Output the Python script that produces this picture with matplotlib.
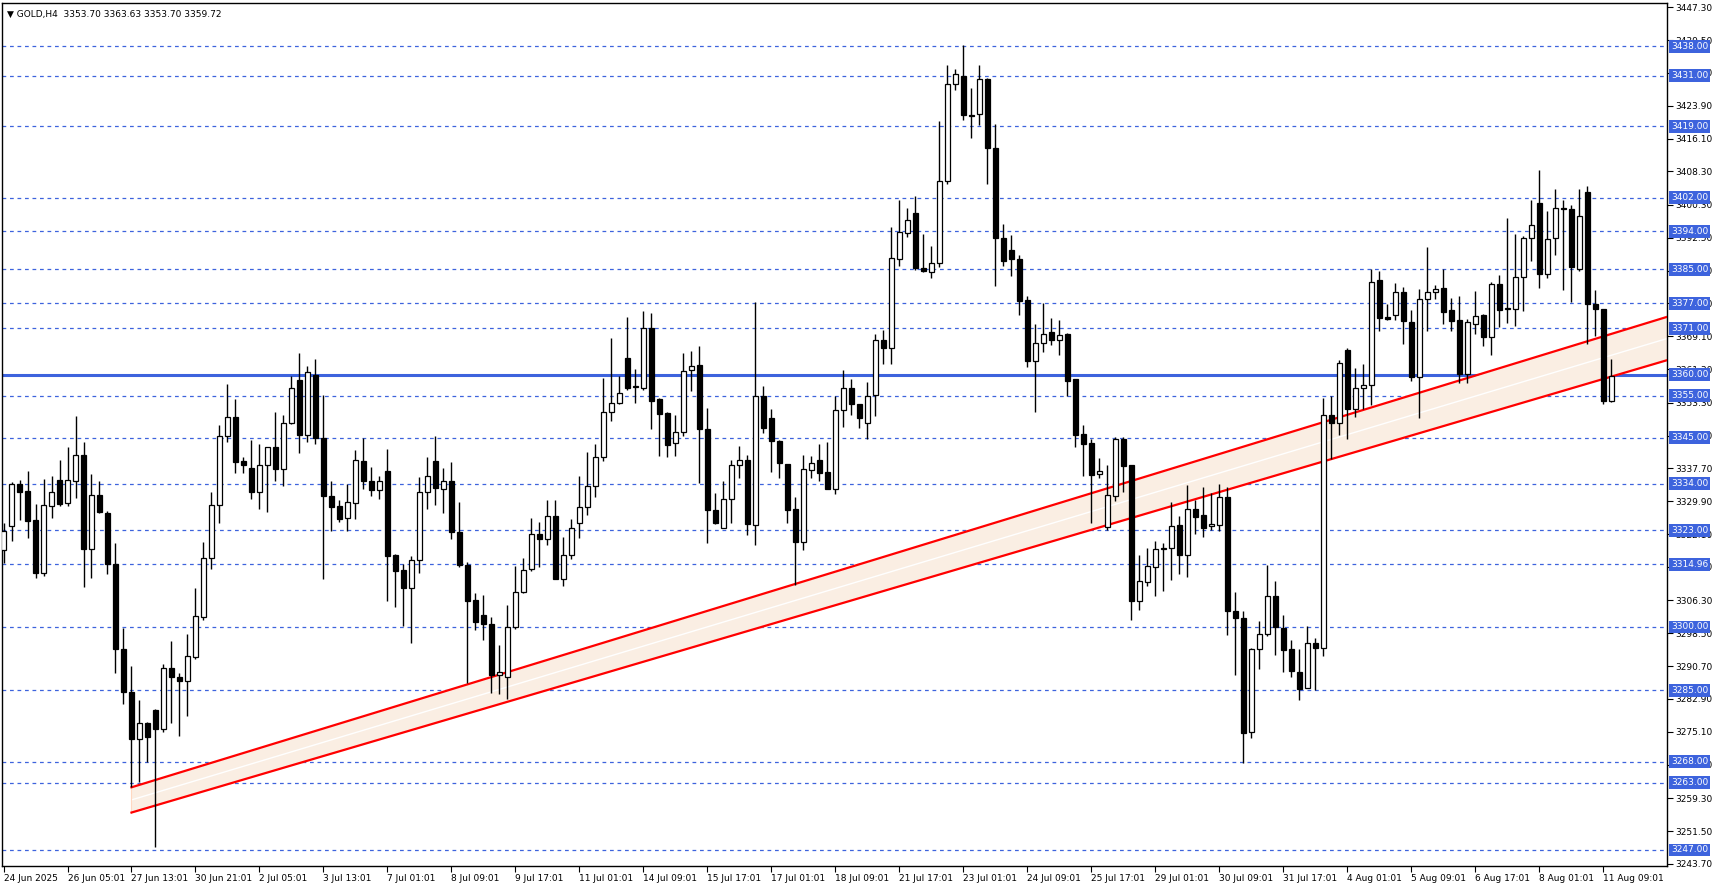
import matplotlib.pyplot as plt
import matplotlib.transforms as mtransforms

# GOLD H4 candles (open, high, low, close)
opens = [3318.4, 3324.0, 3333.9, 3332.3, 3325.4, 3312.9, 3328.8, 3334.9, 3329.4, 3334.8,
         3340.8, 3318.6, 3331.3, 3327.0, 3314.9, 3294.7, 3284.5, 3273.4, 3277.3, 3280.3,
         3275.8, 3290.2, 3288.2, 3287.2, 3292.9, 3302.4, 3316.3, 3329.1, 3345.5, 3349.8,
         3339.4, 3337.7, 3332.1, 3338.6, 3342.7, 3337.6, 3348.5, 3358.8, 3345.7, 3360.0,
         3345.0, 3331.2, 3328.7, 3325.9, 3329.5, 3339.4, 3334.8, 3332.5, 3337.0, 3317.1,
         3313.5, 3309.3, 3316.0, 3332.0, 3339.4, 3332.9, 3334.6, 3322.5, 3314.7, 3306.3,
         3302.8, 3300.8, 3288.7, 3288.0, 3299.9, 3308.2, 3313.7, 3322.2, 3321.0, 3326.3,
         3311.5, 3317.2, 3324.6, 3328.6, 3333.4, 3340.3, 3351.0, 3353.3, 3364.0, 3357.0,
         3356.8, 3371.0, 3354.3, 3350.9, 3343.7, 3346.3, 3361.0, 3362.3, 3347.0, 3327.8,
         3323.5, 3330.4, 3338.5, 3339.6, 3324.3, 3354.8, 3349.6, 3344.3, 3338.8, 3328.0,
         3320.1, 3337.4, 3339.8, 3336.9, 3332.8, 3351.5, 3356.8, 3352.9, 3348.6, 3355.2,
         3368.1, 3366.3, 3387.5, 3393.7, 3398.5, 3385.4, 3384.4, 3386.4, 3406.0, 3429.1,
         3430.9, 3421.7, 3422.0, 3430.3, 3413.9, 3392.5, 3389.7, 3387.5, 3377.6, 3363.2,
         3367.4, 3370.0, 3368.3, 3369.6, 3358.9, 3345.9, 3343.7, 3336.3, 3323.7, 3331.2,
         3344.7, 3338.4, 3306.1, 3310.8, 3314.2, 3318.6, 3318.7, 3324.2, 3317.2, 3328.0,
         3326.6, 3324.0, 3324.3, 3330.8, 3303.8, 3302.1, 3275.1, 3294.8, 3298.3, 3307.4,
         3299.8, 3294.8, 3289.3, 3285.4, 3296.1, 3294.9, 3350.3, 3348.4, 3365.8, 3351.8,
         3356.7, 3357.6, 3382.4, 3373.6, 3374.2, 3379.7, 3372.6, 3359.3, 3378.0, 3379.7,
         3380.6, 3375.3, 3372.9, 3360.2, 3372.0, 3374.1, 3368.9, 3381.6, 3375.5, 3375.6,
         3383.2, 3392.5, 3400.8, 3383.9, 3392.4, 3399.5, 3399.4, 3385.1, 3403.5, 3376.8,
         3375.6, 3353.7]
highs = [3324.8, 3334.4, 3334.9, 3337.0, 3329.3, 3335.2, 3336.0, 3339.6, 3342.7, 3350.1,
         3343.9, 3336.3, 3334.7, 3327.5, 3319.9, 3299.8, 3290.7, 3282.6, 3277.5, 3280.5,
         3291.2, 3296.7, 3289.0, 3298.3, 3309.2, 3320.3, 3332.0, 3348.0, 3357.7, 3354.1,
         3340.4, 3344.4, 3343.6, 3342.7, 3351.0, 3350.3, 3359.6, 3365.2, 3362.0, 3363.6,
         3355.2, 3334.7, 3330.1, 3333.9, 3342.0, 3345.0, 3338.0, 3335.8, 3342.3, 3317.3,
         3314.9, 3316.8, 3335.6, 3340.4, 3345.3, 3337.7, 3339.3, 3329.6, 3315.5, 3308.0,
         3307.6, 3302.3, 3295.7, 3305.2, 3314.5, 3316.5, 3325.8, 3324.9, 3330.1, 3330.1,
         3321.3, 3325.6, 3335.8, 3341.5, 3343.6, 3359.1, 3368.6, 3359.7, 3373.6, 3361.3,
         3375.0, 3374.6, 3354.5, 3351.0, 3350.4, 3365.1, 3365.6, 3366.8, 3352.0, 3331.9,
         3334.7, 3339.6, 3343.1, 3340.9, 3377.2, 3357.2, 3351.7, 3344.5, 3338.8, 3331.0,
         3340.9, 3340.6, 3343.6, 3344.0, 3354.9, 3361.1, 3359.0, 3353.0, 3358.2, 3369.6,
         3370.7, 3395.0, 3401.4, 3399.7, 3402.4, 3393.3, 3390.5, 3420.2, 3433.5, 3432.5,
         3438.4, 3428.2, 3433.6, 3430.5, 3419.6, 3395.7, 3393.1, 3388.5, 3378.6, 3371.9,
         3377.0, 3373.4, 3373.0, 3369.9, 3359.0, 3348.0, 3344.7, 3340.1, 3338.5, 3345.2,
         3345.2, 3338.5, 3317.1, 3318.7, 3320.4, 3319.9, 3329.6, 3326.4, 3333.8, 3330.2,
         3333.2, 3331.9, 3333.9, 3333.2, 3308.3, 3303.7, 3295.0, 3301.5, 3314.8, 3311.0,
         3302.9, 3296.9, 3294.8, 3300.2, 3297.4, 3354.4, 3354.9, 3363.4, 3366.2, 3361.6,
         3362.4, 3385.1, 3384.5, 3376.8, 3381.8, 3380.9, 3375.3, 3380.4, 3390.2, 3381.2,
         3385.1, 3378.3, 3378.6, 3373.3, 3379.8, 3374.3, 3382.1, 3383.7, 3397.3, 3393.5,
         3393.0, 3401.6, 3408.5, 3398.8, 3404.2, 3401.6, 3400.4, 3404.2, 3404.7, 3380.0,
         3375.6, 3363.6]
lows = [3315.3, 3320.5, 3325.4, 3321.2, 3311.7, 3312.2, 3326.0, 3328.8, 3328.8, 3330.7,
        3309.6, 3311.7, 3327.0, 3312.7, 3289.0, 3281.6, 3262.0, 3263.2, 3267.8, 3247.8,
        3275.1, 3277.2, 3274.2, 3278.9, 3292.3, 3301.6, 3313.8, 3324.8, 3344.0, 3336.6,
        3336.6, 3330.5, 3328.1, 3327.4, 3334.8, 3333.5, 3348.2, 3341.4, 3344.0, 3343.5,
        3311.5, 3322.8, 3325.0, 3322.9, 3325.6, 3332.9, 3331.2, 3330.5, 3306.2, 3304.8,
        3300.2, 3296.1, 3312.9, 3328.1, 3329.1, 3327.0, 3320.8, 3314.2, 3286.8, 3299.3,
        3296.9, 3284.2, 3284.0, 3283.0, 3299.6, 3308.0, 3313.4, 3314.3, 3319.5, 3311.5,
        3309.8, 3316.1, 3321.2, 3326.6, 3330.9, 3339.5, 3349.0, 3353.0, 3356.3, 3353.3,
        3356.4, 3347.0, 3340.7, 3340.5, 3340.7, 3345.4, 3356.1, 3334.3, 3320.0, 3324.4,
        3323.5, 3324.7, 3335.5, 3321.9, 3319.5, 3346.0, 3336.8, 3335.5, 3324.7, 3310.0,
        3318.2, 3335.3, 3334.7, 3332.7, 3331.5, 3347.6, 3350.3, 3347.3, 3344.6, 3350.2,
        3362.5, 3362.5, 3385.8, 3392.7, 3384.8, 3384.4, 3383.0, 3385.6, 3405.3, 3427.7,
        3420.6, 3416.3, 3419.4, 3405.3, 3381.0, 3385.7, 3383.4, 3374.1, 3361.8, 3351.1,
        3365.4, 3367.0, 3364.6, 3354.9, 3342.8, 3335.9, 3324.8, 3335.5, 3323.1, 3330.0,
        3332.2, 3301.6, 3304.1, 3309.8, 3307.4, 3308.5, 3311.1, 3312.7, 3311.8, 3322.2,
        3321.5, 3323.0, 3322.9, 3298.2, 3288.5, 3267.7, 3273.6, 3289.9, 3297.8, 3293.4,
        3289.4, 3288.0, 3282.7, 3285.4, 3285.1, 3293.0, 3340.0, 3345.6, 3344.6, 3349.8,
        3351.8, 3352.7, 3370.3, 3372.9, 3372.9, 3367.3, 3358.5, 3349.7, 3370.4, 3377.9,
        3371.9, 3370.4, 3358.1, 3358.1, 3369.7, 3366.8, 3364.7, 3371.3, 3372.2, 3371.5,
        3375.1, 3387.0, 3380.6, 3382.9, 3388.3, 3380.0, 3377.2, 3384.6, 3367.3, 3369.1,
        3352.9, 3353.5]
closes = [3322.9, 3334.1, 3332.1, 3325.2, 3312.9, 3328.9, 3332.0, 3329.2, 3334.9, 3340.8,
          3318.6, 3331.3, 3327.4, 3314.9, 3294.7, 3284.5, 3273.4, 3277.3, 3273.9, 3275.8,
          3290.2, 3288.0, 3287.2, 3293.0, 3302.7, 3316.3, 3329.1, 3345.5, 3350.0, 3339.3,
          3338.5, 3332.1, 3338.6, 3342.7, 3337.6, 3348.6, 3356.9, 3345.7, 3360.5, 3345.0,
          3331.2, 3328.6, 3325.7, 3329.6, 3339.8, 3334.7, 3332.5, 3334.8, 3316.9, 3313.4,
          3309.3, 3316.0, 3332.0, 3336.0, 3333.1, 3334.6, 3322.5, 3314.7, 3306.2, 3301.2,
          3300.8, 3288.7, 3289.4, 3299.9, 3308.2, 3313.5, 3322.0, 3321.0, 3326.3, 3311.5,
          3317.2, 3323.6, 3328.6, 3333.4, 3340.3, 3351.0, 3353.3, 3355.7, 3356.8, 3357.1,
          3371.0, 3353.8, 3350.7, 3343.2, 3346.4, 3360.8, 3362.0, 3347.0, 3327.7, 3324.7,
          3330.5, 3338.5, 3339.6, 3324.4, 3354.8, 3347.4, 3344.1, 3338.9, 3327.7, 3320.1,
          3337.5, 3339.0, 3336.7, 3332.8, 3351.6, 3356.8, 3352.9, 3349.7, 3355.0, 3368.1,
          3366.3, 3387.8, 3393.8, 3396.8, 3385.3, 3384.6, 3386.4, 3406.1, 3429.1, 3431.5,
          3421.7, 3421.5, 3430.3, 3413.9, 3392.4, 3387.0, 3387.5, 3377.5, 3363.2, 3367.4,
          3369.7, 3368.1, 3369.5, 3358.5, 3345.7, 3343.5, 3336.2, 3337.1, 3331.3, 3344.7,
          3338.3, 3306.1, 3310.9, 3314.5, 3318.5, 3318.6, 3324.0, 3317.2, 3328.0, 3326.2,
          3323.6, 3324.4, 3330.8, 3303.7, 3302.1, 3274.9, 3294.8, 3298.3, 3307.4, 3299.9,
          3294.6, 3289.6, 3285.3, 3296.1, 3294.9, 3350.3, 3348.4, 3362.8, 3351.8, 3356.7,
          3357.6, 3382.1, 3373.4, 3373.3, 3379.7, 3372.7, 3359.5, 3378.0, 3379.7, 3380.4,
          3374.9, 3372.7, 3360.2, 3372.6, 3374.0, 3368.9, 3381.6, 3375.3, 3375.6, 3383.2,
          3392.5, 3395.6, 3383.9, 3392.3, 3399.6, 3399.3, 3385.5, 3397.7, 3376.8, 3375.6,
          3353.7, 3359.7]

# horizontal levels drawn on the chart
dashed_levels = [3438.0, 3431.0, 3419.0, 3402.0, 3394.0, 3385.0, 3377.0, 3371.0, 3355.0,
                 3345.0, 3334.0, 3323.0, 3314.96, 3300.0, 3285.0, 3268.0, 3263.0, 3247.0]
solid_level = 3360.0

# rising channel (start bar, upper/lower price at start and at right edge)
chan_start = 16
chan_upper = [3261.9, 3373.7]
chan_lower = [3255.9, 3363.4]

price_ticks = [3447.30, 3439.50, 3431.70, 3423.90, 3416.10, 3408.30, 3400.30, 3392.50,
               3384.70, 3376.90, 3369.10, 3361.30, 3353.30, 3345.50, 3337.70, 3329.90,
               3322.10, 3314.30, 3306.30, 3298.50, 3290.70, 3282.90, 3275.10, 3267.30,
               3259.30, 3251.50, 3243.70]
date_labels = ['24 Jun 2025', '26 Jun 05:01', '27 Jun 13:01', '30 Jun 21:01', '2 Jul 05:01',
               '3 Jul 13:01', '7 Jul 01:01', '8 Jul 09:01', '9 Jul 17:01', '11 Jul 01:01',
               '14 Jul 09:01', '15 Jul 17:01', '17 Jul 01:01', '18 Jul 09:01', '21 Jul 17:01',
               '23 Jul 01:01', '24 Jul 09:01', '25 Jul 17:01', '29 Jul 01:01', '30 Jul 09:01',
               '31 Jul 17:01', '4 Aug 01:01', '5 Aug 09:01', '6 Aug 17:01', '8 Aug 01:01',
               '11 Aug 09:01']
bars_per_label = 8

level_blue = '#3d63dd'

fig = plt.figure(figsize=(17.12, 8.88), dpi=100)
ax = fig.add_axes([0.00135, 0.0248, 0.9723, 0.9718])
x_end = 207.95
ax.set_xlim(-0.15, x_end)
ax.set_ylim(3243.2, 3448.3)

# levels
for lv in dashed_levels:
    ax.axhline(lv, color=level_blue, lw=0.9, ls=(0, (3, 3)), zorder=1)
ax.axhline(solid_level, color=level_blue, lw=2.2, zorder=1)

# channel
cx = [chan_start, x_end]
ax.fill_between(cx, chan_lower, chan_upper, color='#faeee3', lw=0, zorder=2)
mid = [(a + b) / 2 for a, b in zip(chan_lower, chan_upper)]
ax.plot(cx, mid, color='white', lw=1.0, zorder=2)
ax.plot(cx, chan_upper, color='#ff0000', lw=1.6, zorder=3)
ax.plot(cx, chan_lower, color='#ff0000', lw=1.6, zorder=3)
ax.plot([chan_start, chan_start], [chan_lower[0], chan_upper[0]], color='#ffd8c0', lw=0.8, zorder=2)

# candles
bw = 0.62
for i, (o, h, l, c) in enumerate(zip(opens, highs, lows, closes)):
    ax.vlines(i, l, h, color='black', lw=1.0, zorder=4)
    bottom = min(o, c)
    height = max(abs(c - o), 0.25)
    face = 'white' if c >= o else 'black'
    ax.bar(i, height, bw, bottom=bottom, facecolor=face, edgecolor='black', lw=0.9, zorder=5)

# axes styling
for side in ['top', 'left', 'right', 'bottom']:
    ax.spines[side].set_linewidth(1.0)
ax.yaxis.tick_right()
ax.set_yticks(price_ticks)
ax.set_yticklabels(['%.2f' % p for p in price_ticks], fontsize=6.5)
ax.tick_params(axis='y', direction='out', length=4, pad=2)
ax.set_xticks([k * bars_per_label for k in range(len(date_labels))])
ax.set_xticklabels(date_labels, fontsize=6.5, ha='left')
ax.tick_params(axis='x', direction='out', length=4, pad=2)

# level tags on price scale
tr = mtransforms.blended_transform_factory(ax.transAxes, ax.transData)
for lv in dashed_levels + [solid_level]:
    ax.text(1.0025, lv, '%.2f' % lv, transform=tr, fontsize=6.5, color='white',
            va='center', ha='left', zorder=10, clip_on=False,
            bbox=dict(boxstyle='square,pad=0.22', fc=level_blue, ec='none'))

ax.text(0.003, 0.992, '\u25bc GOLD,H4  3353.70 3363.63 3353.70 3359.72', transform=ax.transAxes,
        fontsize=6.5, va='top', ha='left')

fig.savefig('out.png', dpi=100)
